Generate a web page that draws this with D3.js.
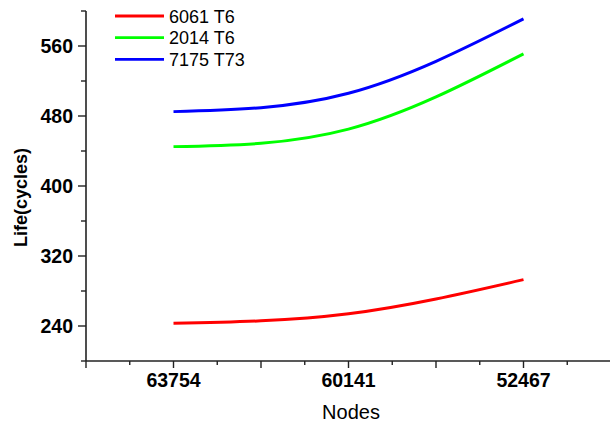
<!DOCTYPE html>
<html>
<head>
<meta charset="utf-8">
<script src="https://cdn.jsdelivr.net/npm/d3@7/dist/d3.min.js"></script>
<style>
  html, body { margin: 0; padding: 0; background: #fff; }
  svg { display: block; font-family: "Liberation Sans", Arial, sans-serif; }
</style>
</head>
<body>
<svg id="chart" width="610" height="426"></svg>
<script>
// Fatigue life per alloy for each mesh size (node count)
const nodes = ["63754", "60141", "52467"];
const seriesNames = ["6061 T6", "2014 T6", "7175 T73"];
const seriesColors = ["#ff0000", "#00ff00", "#0000ff"];
const life6061 = [243, 254, 293];
const life2014 = [445, 465, 551];
const life7175 = [485, 506, 591];
const yLabelTicks = [240, 320, 400, 480, 560];

const series = [life6061, life2014, life7175];

const svg = d3.select("#chart");
const axisColor = "#222";

// node categories sit at positions 1..n on a linear scale with half-unit padding
const x = d3.scaleLinear().domain([0.5, nodes.length + 0.5]).range([86, 611]);
const y = d3.scaleLinear().domain([200, 600]).range([361, 11]);

// Y axis: major ticks with labels, minor ticks in between
const yMajor = d3.range(240, 600, 80);
const yMinor = d3.range(200, 601, 80);

const yAxisG = svg.append("g");
yAxisG.append("line")
  .attr("x1", x(0.5)).attr("x2", x(0.5))
  .attr("y1", y(600)).attr("y2", y(200))
  .attr("stroke", axisColor).attr("stroke-width", 1.6);
yAxisG.selectAll(".ymaj").data(yMajor).join("line")
  .attr("x1", x(0.5) - 8).attr("x2", x(0.5))
  .attr("y1", d => y(d)).attr("y2", d => y(d))
  .attr("stroke", axisColor).attr("stroke-width", 1.4);
yAxisG.selectAll(".ymin").data(yMinor).join("line")
  .attr("x1", x(0.5) - 5).attr("x2", x(0.5))
  .attr("y1", d => y(d)).attr("y2", d => y(d))
  .attr("stroke", axisColor).attr("stroke-width", 1.4);
yAxisG.selectAll("text").data(yLabelTicks).join("text")
  .attr("x", x(0.5) - 13)
  .attr("y", d => y(d) + 6.5)
  .attr("text-anchor", "end")
  .attr("font-size", 19.5)
  .attr("font-weight", "bold")
  .attr("fill", "#000")
  .text(d => d);

// X axis: major ticks every half unit, minor every quarter, labels at node positions
const xMajor = d3.range(0.5, nodes.length + 0.51, 0.5);
const xMinor = d3.range(0.75, nodes.length + 0.5, 0.5);

const xAxisG = svg.append("g");
xAxisG.append("line")
  .attr("x1", x(0.5)).attr("x2", x(nodes.length + 0.5))
  .attr("y1", y(200)).attr("y2", y(200))
  .attr("stroke", axisColor).attr("stroke-width", 1.6);
xAxisG.selectAll(".xmaj").data(xMajor).join("line")
  .attr("x1", d => x(d)).attr("x2", d => x(d))
  .attr("y1", y(200)).attr("y2", y(200) + 7)
  .attr("stroke", axisColor).attr("stroke-width", 1.4);
xAxisG.selectAll(".xmin").data(xMinor).join("line")
  .attr("x1", d => x(d)).attr("x2", d => x(d))
  .attr("y1", y(200)).attr("y2", y(200) + 4)
  .attr("stroke", axisColor).attr("stroke-width", 1.4);
xAxisG.selectAll("text").data(nodes).join("text")
  .attr("x", (d, i) => x(i + 1))
  .attr("y", 387)
  .attr("text-anchor", "middle")
  .attr("font-size", 19.5)
  .attr("font-weight", "bold")
  .attr("fill", "#000")
  .text(d => d);

// Axis titles
svg.append("text")
  .attr("x", 351).attr("y", 419)
  .attr("text-anchor", "middle")
  .attr("font-size", 20)
  .attr("fill", "#000")
  .text("Nodes");
svg.append("text")
  .attr("transform", "translate(27,197.5) rotate(-90)")
  .attr("text-anchor", "middle")
  .attr("font-size", 18)
  .attr("font-weight", "bold")
  .attr("fill", "#000")
  .text("Life(cycles)");

// Smooth curves through the three node results
const line = d3.line()
  .x((d, i) => x(i + 1))
  .y(d => y(d))
  .curve(d3.curveNatural);

svg.append("g").selectAll("path").data(series).join("path")
  .attr("d", d => line(d))
  .attr("fill", "none")
  .attr("stroke", (d, i) => seriesColors[i])
  .attr("stroke-width", 3);

// Legend
const legend = svg.append("g");
seriesNames.forEach((name, i) => {
  const ly = 16 + i * 21.7;
  legend.append("line")
    .attr("x1", 115).attr("x2", 164)
    .attr("y1", ly).attr("y2", ly)
    .attr("stroke", seriesColors[i]).attr("stroke-width", 2.8);
  legend.append("text")
    .attr("x", 169).attr("y", ly + 6.5)
    .attr("font-size", 18)
    .attr("fill", "#000")
    .text(name);
});
</script>
</body>
</html>
